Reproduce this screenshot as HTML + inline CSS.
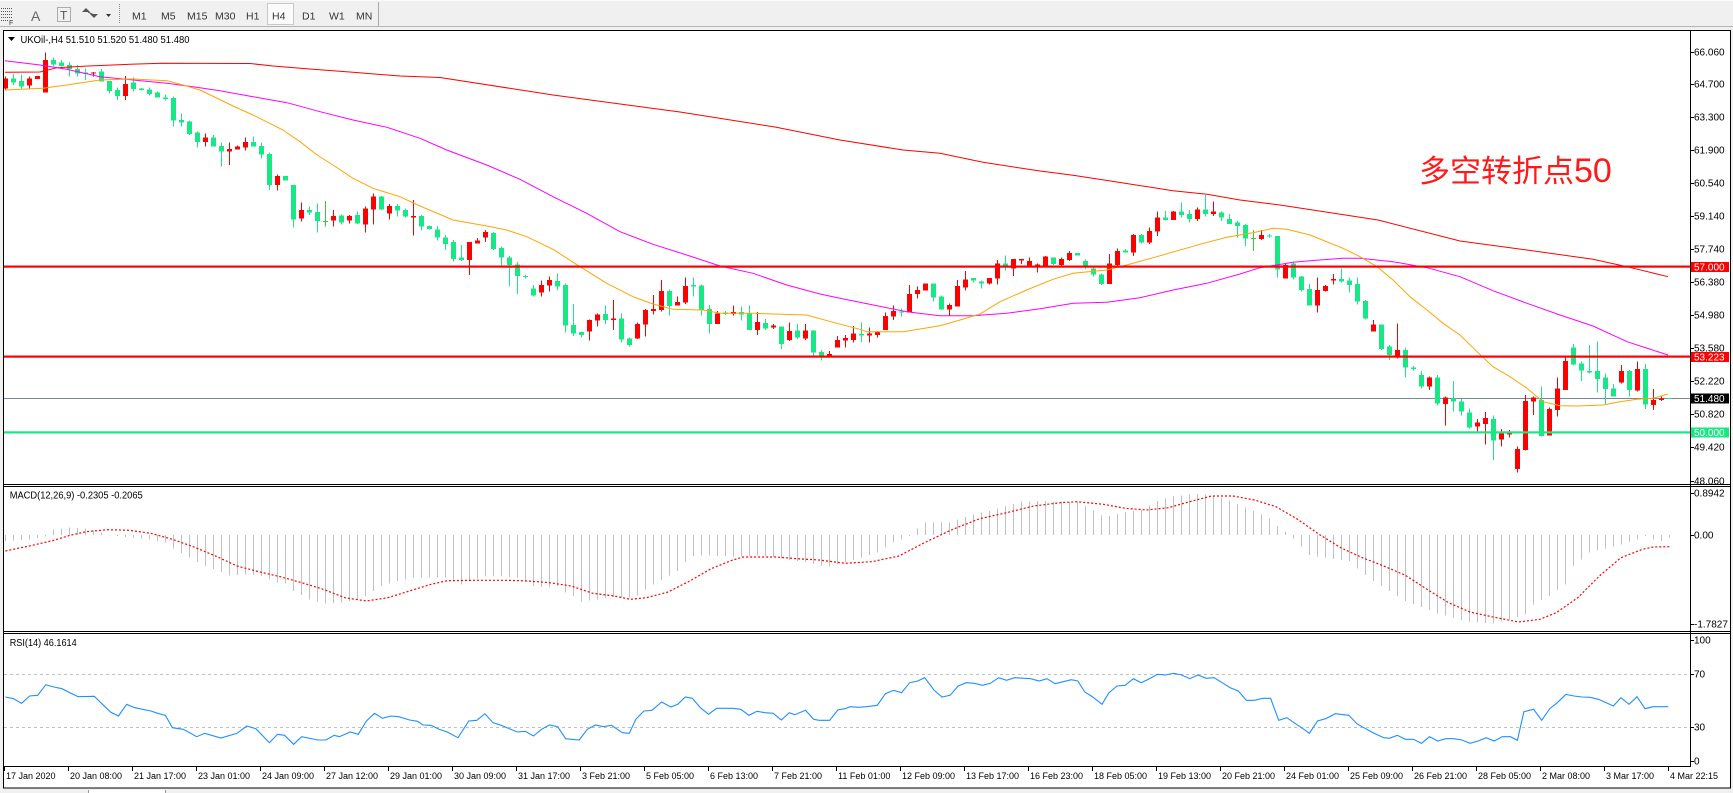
<!DOCTYPE html>
<html><head><meta charset="utf-8">
<style>
html,body{margin:0;padding:0;width:1733px;height:793px;overflow:hidden;background:#f0f0f0;}
svg{display:block;}
text{font-family:"Liberation Sans","Noto Sans CJK SC",sans-serif;}
</style></head><body>
<svg id="s" width="1733" height="793" viewBox="0 0 1733 793" xmlns="http://www.w3.org/2000/svg">
<defs>
<clipPath id="cm"><rect x="4" y="31" width="1686" height="453"/></clipPath>
<clipPath id="cd"><rect x="4" y="487" width="1686" height="144"/></clipPath>
<clipPath id="cr"><rect x="4" y="634" width="1686" height="132"/></clipPath>
</defs>
<rect x="0" y="0" width="1733" height="793" fill="#f0f0f0"/>
<!-- toolbar -->
<line x1="0" y1="0.5" x2="1733" y2="0.5" stroke="#fafafa"/>
<line x1="0" y1="26.5" x2="1733" y2="26.5" stroke="#b4b4b4"/>
<g stroke="#555" stroke-dasharray="1,1">
<line x1="1" y1="8.5" x2="13" y2="8.5"/><line x1="1" y1="11.5" x2="13" y2="11.5"/>
<line x1="1" y1="14.5" x2="13" y2="14.5"/><line x1="1" y1="17.5" x2="13" y2="17.5"/>
<line x1="1" y1="20.5" x2="9" y2="20.5"/>
</g>
<text x="9" y="25" font-size="7" fill="#333">F</text>
<text x="31" y="21" font-size="14" fill="#666">A</text>
<rect x="57.5" y="7.5" width="13" height="14" fill="none" stroke="#666" stroke-dasharray="1,1"/>
<text x="60" y="19.5" font-size="12" fill="#555">T</text>
<path d="M86 8 L90 12 L82 12 Z M90 14 L94 18 L98 14 Z" fill="#555"/>
<line x1="88" y1="12" x2="94" y2="15" stroke="#555"/>
<path d="M106 14 L111 14 L108.5 17 Z" fill="#333"/>
<line x1="119.5" y1="4" x2="119.5" y2="24" stroke="#888" stroke-dasharray="1,1"/>
<rect x="267.5" y="3.5" width="26" height="21" fill="#fafafa" stroke="#c8c8c8"/>
<g font-size="10.5" fill="#333">
<text x="132" y="19.5">M1</text><text x="161" y="19.5">M5</text><text x="187" y="19.5">M15</text>
<text x="215" y="19.5">M30</text><text x="246" y="19.5">H1</text><text x="272" y="19.5">H4</text>
<text x="302" y="19.5">D1</text><text x="329" y="19.5">W1</text><text x="356" y="19.5">MN</text>
</g>
<line x1="378.5" y1="2" x2="378.5" y2="26" stroke="#a8a8a8"/>
<!-- chart window -->
<rect x="3.5" y="30.5" width="1727" height="757.5" fill="#fff" stroke="#000"/>
<rect x="89" y="790" width="76" height="3" fill="#fff"/>
<line x1="88.5" y1="790" x2="88.5" y2="793" stroke="#999"/>
<line x1="165.5" y1="790" x2="165.5" y2="793" stroke="#999"/>

<!-- main panel -->
<g clip-path="url(#cm)">
<line x1="4" y1="398.5" x2="1690" y2="398.5" stroke="#778899"/>
<g id="cand" shape-rendering="crispEdges"></g>
<polyline fill="none" stroke="#ff0000" stroke-width="1" points="5,72.3 40,72 57,67.7 88,66 130,64.3 162,63.3 250,63.5 273,66 313,69.3 353,72.3 400,76 440,77.5 553,95 680,112 775,127 840,140 903,150 940,153.3 983,162.3 1040,171 1073,175.3 1117,182 1173,190.7 1207,194.3 1240,200 1280,205 1378,220 1460,241 1527,250 1593,259.3 1627,266.7 1668,276.7"/>
<polyline fill="none" stroke="#ff00ff" stroke-width="1" points="5,60.7 40,65 66.7,69.3 100,76.7 133,80 167,83.3 193,86.7 220,90.7 253,96.7 287,102.7 320,111.7 353,120 387,127.3 420,138.3 446.7,150 486.7,165 520,179.3 553,196.7 586.7,213.3 620,231.7 653,244.3 686.7,255 720,266 753,273.3 786.7,285 820,294 840,298.3 873.3,305 906.7,311.7 940,315.7 973,315.7 1006.7,313.3 1040,308.7 1073.3,303.3 1106.7,302.3 1140,297.7 1173.3,290 1206.7,283.3 1240,274 1260,267.7 1293,262.3 1310,260.7 1343,258.3 1360,258.3 1393,261.7 1427,267.7 1460,276.7 1493,290.7 1527,303.3 1560,315 1593,326 1627,341.7 1668,355"/>
<polyline fill="none" stroke="#ffa500" stroke-width="1" points="5,90 43,88.3 66.7,85 100,80 133,79 167,80.7 183,85 200,90 233,106 253,115 283,130 300,141.7 317,155 333,165 353,178.3 373,188.3 400,196.7 420,206 453,220 486.7,226 506.7,230 526.7,236.7 553,249.3 580,266.7 606.7,283.3 633,296.7 653,304 673,309.3 703,310 720,313.3 753,313.3 773,314 806.7,315 836.7,323.3 860,329.3 866.7,331.7 903,331.7 940,325.7 960,320 980,314 1000,301.7 1026.7,290 1053,279.3 1073,273.3 1106.7,270 1126.7,265 1156.7,256.7 1200,244.3 1226.7,237.3 1253,232.7 1273,228.3 1287,229.3 1310,235 1343,248.3 1360,256.7 1377,266.7 1393,280 1410,296.7 1427,310 1443,323.3 1460,335 1477,351.7 1493,366.7 1510,376.7 1527,388.3 1543,401.7 1560,405.7 1577,406 1603,405 1620,401.7 1637,399.3 1653,398.3 1668,394"/>
<rect x="4" y="265.5" width="1686" height="2.2" fill="#ff0000"/>
<rect x="4" y="355.5" width="1686" height="2.2" fill="#ff0000"/>
<rect x="4" y="431.3" width="1686" height="2.2" fill="#18e884"/>
<text x="1419" y="182" font-size="31" fill="#ff1a1a">多空转折点<tspan font-size="34">50</tspan></text>
</g>
<path d="M8 37 L15 37 L11.5 41 Z" fill="#000"/>
<text x="20.5" y="43" font-size="10" fill="#000" textLength="169" lengthAdjust="spacingAndGlyphs">UKOil-,H4  51.510 51.520 51.480 51.480</text>

<!-- MACD panel -->
<g clip-path="url(#cd)">
<g id="hist" shape-rendering="crispEdges"></g>
<polyline fill="none" stroke="#ff0000" stroke-width="1.2" stroke-dasharray="2,2" points="5.4,551 32.3,545.3 53.9,540.3 70,535.3 86.2,531.7 107.8,529.7 129.3,530.3 150.9,533.3 172.4,539.3 194,547 215.5,556 237.1,566 258.6,571.7 280.2,576.7 301.7,582.7 323.3,589.3 344.8,597.7 366.4,601 387.9,597.7 409.5,591 431,584.3 447.2,580.7 474.1,580.3 506.5,580.3 528,581 549.6,582.7 571.1,586 592.7,593.3 614.2,596 630.4,599.3 646.6,597.7 668.1,592 689.7,581 711.2,568.7 732.8,560 743.5,557 775.9,557 797.4,558.7 819,560 845,563.3 871.9,561.7 898.9,556 925.8,542 952.8,529.3 979.7,518.7 1006.6,512.7 1033.6,506 1060.5,502.7 1076.7,501.7 1103.6,504.3 1125.2,508.3 1146.7,510 1168.3,507.7 1189.8,501.7 1211.4,496 1233,496 1254.5,500 1276,506.7 1297.6,519.3 1319.1,534.3 1340.7,547.7 1362.3,557.7 1383.8,566 1405.4,575.3 1427,589.3 1448.5,602.7 1470,612 1491.6,616.7 1518.5,622 1540,619.3 1556.3,612.7 1577.8,597.7 1599.4,576 1620.9,557.7 1642.5,549.3 1653.2,547 1669.4,546.7"/>
</g>
<text x="9.7" y="498.5" font-size="10" fill="#000" textLength="133" lengthAdjust="spacingAndGlyphs">MACD(12,26,9) -0.2305 -0.2065</text>

<!-- RSI panel -->
<g clip-path="url(#cr)">
<line x1="4" y1="674.5" x2="1690" y2="674.5" stroke="#c0c0c0" stroke-dasharray="3,3"/>
<line x1="4" y1="727.5" x2="1690" y2="727.5" stroke="#c0c0c0" stroke-dasharray="3,3"/>
<polyline fill="none" stroke="#1e90ff" stroke-width="1.1" points="5.4,697 13.5,698.7 21.6,703.3 29.6,696 37.7,695.3 45.8,684.7 53.9,687 62,688.7 70,692.7 78.1,696.7 94.3,696.3 110.5,712 118.5,716 126.6,704.3 134.7,707.7 150.9,711 158.9,713.7 165.4,715.3 172.4,727.7 183.2,729.3 196.7,736.7 204.7,733.3 220.9,738 237.1,733.3 246.8,726 255.9,728.7 269.4,742.7 277.5,734.3 284.5,735.3 293.6,744.3 301.7,736.7 317.9,740 326,740 334.1,735.3 339.4,736.7 350.2,732 358.3,734.3 366.4,721 374.5,713.3 382.5,718.3 390.6,716 398.7,716.7 409.5,720 417.6,721.3 423,725 431,725.3 439.1,729.3 447.2,732 458,737.7 468.8,721 476.8,720.3 484.9,713.7 493,722.7 501.1,725.3 517.2,732 525.3,731.3 533.4,736 541.5,729.3 549.6,725 557.7,726.7 565.7,738.7 579.2,740 587.3,729.3 595.4,725 603.4,726.7 611.5,725.3 622.3,732.7 629.3,733.3 635.8,719.3 643.9,711 651.9,710.3 661.6,702 670.8,707 677.8,704.3 685.3,697 692.3,698.3 700.4,707.7 708.5,714.3 716.6,708.3 732.8,708.3 740.8,709.3 748.9,715.3 757,711.3 765.1,712.7 773.2,713.3 781.3,720 789.3,712.7 794.7,714.7 805.5,710.3 813.6,719.3 819,720.3 829.7,720.3 837.8,710 845,708.7 850.4,706.7 858.5,707.3 866.6,706.7 877.3,705.3 885.4,693.7 893.5,690.3 901.6,692.7 909.7,682.7 917.7,681 924.7,677.7 933.9,690 942,697 950.1,695.3 958.1,686 966.2,682.7 974.3,683.3 982.4,685.3 990.5,683.3 998.6,677.7 1006.6,680.3 1014.7,677.7 1030.9,678.7 1039,681 1047,678.7 1055.1,683.7 1063.2,681.7 1071.3,679.7 1077.8,681 1084.8,692 1092.8,697 1102,704.3 1109,692.7 1117.1,686 1125.2,685.3 1133.3,678.7 1141.3,682.7 1149.4,678.7 1157.5,674.3 1165.6,675 1173.7,673.3 1181.7,675 1189.8,678.7 1197.9,675 1206,678.3 1214.1,677.7 1222.2,682.7 1230.2,687.7 1238.3,691 1246.4,700.3 1254.5,700.3 1262.6,698.3 1270.6,698.3 1278.7,720.3 1286.8,717.7 1294.9,723.3 1303,728.7 1309.4,733.3 1317.5,721 1325.6,718.7 1335.3,713.7 1348.8,715.3 1356.9,723.7 1365,728.3 1373,732.7 1383.8,737.7 1389.2,738.3 1397.3,735.3 1405.3,739.3 1413.4,739.3 1421.5,743.3 1429.6,736.7 1437.7,741 1445.8,738.7 1453.8,738.7 1461.9,740 1470,743.3 1478.1,741 1486.2,737.7 1494.2,741 1502.3,736.7 1510.4,736.7 1517.4,740.3 1523.9,711.7 1533.6,709.3 1541.7,720.3 1549.7,708.7 1557.3,702.7 1565.9,694.3 1574,696 1582.1,697 1590.2,697.3 1598.3,699.3 1606.3,702.7 1613.3,706 1620.9,697.7 1629,704.3 1637,696.7 1645.1,708.7 1653.2,706.7 1668.3,706.7"/>
</g>
<text x="9.7" y="646" font-size="10" fill="#000" textLength="67" lengthAdjust="spacingAndGlyphs">RSI(14) 46.1614</text>

<!-- frame lines -->
<g stroke="#000" stroke-width="1" shape-rendering="crispEdges">
<line x1="4" y1="484.5" x2="1731" y2="484.5"/>
<line x1="4" y1="486.5" x2="1731" y2="486.5"/>
<line x1="4" y1="631.5" x2="1731" y2="631.5"/>
<line x1="4" y1="633.5" x2="1731" y2="633.5"/>
<line x1="4" y1="766.5" x2="1691" y2="766.5"/>
<line x1="1690.5" y1="31" x2="1690.5" y2="767"/>
</g>

<!-- price axis -->
<g id="pax" font-size="10" fill="#000"></g>
<rect x="1691" y="262" width="38" height="10" fill="#ff0000"/>
<text x="1694" y="270.5" font-size="10" fill="#fff">57.000</text>
<rect x="1691" y="352" width="38" height="10" fill="#ff0000"/>
<text x="1694" y="360.5" font-size="10" fill="#fff">53.223</text>
<rect x="1691" y="393.5" width="38" height="10" fill="#000"/>
<text x="1694" y="402" font-size="10" fill="#fff">51.480</text>
<rect x="1691" y="427.5" width="38" height="10" fill="#18e884"/>
<text x="1694" y="436" font-size="10" fill="#fff">50.000</text>

<!-- time axis -->
<g id="tax" font-size="9" fill="#000"></g>
</svg>
<script>
(function(){
var C=[[76.7,78.3,88.3,90,1],[74,78.3,82.3,85,0],[74.3,81,86.7,89,0],[76.7,78.3,85.7,89,1],[76,76,79,79,1],[52.7,60,92.7,92.7,1],[57.3,60,64.7,66.7,0],[60,62.7,66,66.7,0],[62,65,69,76.7,0],[65,69,73.3,76.7,0],
[68.3,72.7,74,80,0],[72,72.7,73.3,76.7,1],[69,71.3,81.7,81.7,0],[81,81,91,93.3,0],[87.3,90,96,100,0],[76,84,96,100,1],[77.7,82.7,89,91.7,0],[88,88.3,90,90.5,0],[87.3,89.3,94,95.7,0],[91.7,92.7,97.7,97.7,0],
[94.3,97.3,99,100.7,0],[96.7,98,120.7,126.7,0],[113.3,120,122.7,126.7,0],[120.7,121.7,134,135,0],[131.7,132.7,142,147.7,0],[133.3,137.7,142,146.7,1],[135,137.7,146.7,146.7,0],[142.7,146,151.7,166.7,0],[142.3,149,151.7,165,1],[145.3,146.7,149.3,149.3,1],
[137.7,142,147.7,150.7,1],[136.7,142,146.7,146.7,0],[142.7,146,154.3,158.3,0],[152.7,154,185,190,0],[174.3,176,185,190.7,1],[176,176,180.7,180.7,0],[185,185,219.3,227.7,0],[202.7,210,218.3,221.7,1],[206.7,210,212.7,215,0],[203.3,212,221,232.7,0],
[201,221,221.7,226.7,2],[210,216,220.7,226.7,1],[214.3,215.3,222.7,224.3,0],[215,216,220.7,223.3,1],[211.7,215,223.3,224,0],[206.7,208.3,224.3,232.7,1],[193.3,196.7,209.3,224.3,1],[196,196.7,209.3,210,0],[204,206,213.3,219.3,1],[204,206,210.7,216.7,0],
[208.3,210,216.7,217.7,0],[200,216,217.7,235.7,1],[215,216,226.7,230.7,0],[225.3,226,229,229.3,0],[226,229.3,237.3,240.7,0],[235,237.3,244,250,0],[240,242,259,261.7,0],[245,257.7,260,261,0],[242,242,260,275,1],[238,240.7,243.7,243.7,1],
[230,232,237.7,242,1],[232,233,249,250,0],[246.7,248,257.7,266,0],[256,257.7,265,286,0],[262,264.3,276,294,0],[274.7,276,276.7,278.3,0],[285,288.7,295.3,296.7,0],[280.7,285,292.7,296.7,1],[276.7,280,285.7,291.7,1],[273.3,281,286.7,290,0],
[283.3,285,325.7,332.7,0],[304,325,333.3,336,0],[332,332,335,337.3,0],[319.3,320,331.7,340.7,1],[313.3,314.3,320.7,326.7,1],[305.3,314,320,324,0],[300,318.3,320,330,1],[313.3,318.3,339.3,342.7,0],[337.7,338.3,345,346.7,0],[322.3,324,338.3,339,1],
[309,310,324.7,336.7,1],[295,309,311,314.3,1],[280,291,310,311.7,1],[289.3,291,306,315.7,0],[296.7,302,305.7,305.7,1],[277.7,286,302.3,304,1],[277.7,285,286.7,296.7,0],[284.7,285.7,310,315.7,0],[305,309,324,333.3,0],[311,313.3,324,324,1],
[311,312.3,314,315,0],[305.7,312,314,315.7,1],[306.7,312,314.3,320.7,0],[305.7,313.3,330,330,0],[312,322,330,335,1],[319,323,328.3,330,0],[324,325.7,327.7,329,1],[326.7,326.7,344,349,0],[322.7,331,340,341,1],[324,330.3,337.7,339,0],
[324,330.3,338.3,340,1],[330,330.7,352.7,356,0],[350,352,356,360.7,0],[351,354,356.7,356.7,1],[336,340,347.7,347.7,1],[335,338,340.7,347.3,1],[326,333.7,340,342.7,1],[322.7,334,335.3,342,0],[327.7,333.7,335.7,342.7,1],[331,332,335,337.7,1],
[312.7,316,330,330,1],[305.7,311,316.7,320,1],[308.3,311.7,312.3,316.7,0],[285,294,312.3,312.3,1],[286.7,290,294,298.7,1],[283.3,283.3,290.7,290.7,1],[283.3,283.3,297.7,301.7,0],[295.7,296.7,309.3,310,0],[303.3,305,309.3,316,1],[280,286,306.7,306.7,1],
[271,279.3,287.7,290.7,1],[278,278,280.7,282.3,0],[280.7,281.3,283.7,288.3,0],[278,278,283.7,284.7,1],[260,263.3,278.7,284.7,1],[255.3,263.3,266.7,270.7,0],[259,259,268.3,276,1],[259,259,260.7,264,1],[257.3,261,266.7,267.3,1],[263.3,264.3,267.3,272.7,1],
[256,256.7,266.7,266.7,1],[257.3,257.3,264,265,0],[257.3,259,265,266,1],[251,253,260,261,1],[253,253,255.7,255.7,0],[259.3,261,266.3,269,0],[266.7,268.3,274.3,276.7,0],[273.3,274.3,284,285,0],[254,263.3,284,284,1],[248.3,251,265,266.7,1],
[249,250.7,252.3,252.7,0],[234,235,252.7,256,1],[234,235,242.7,243.3,0],[227.3,231,242.7,244,1],[211.7,217.3,231.7,236,1],[211,217.3,220,220.7,0],[211,211.7,220,220,1],[202.7,211.7,215,217.7,0],[210,214,219,222.7,0],[207.7,209.3,219,221,1],
[195,209.3,214,216.7,0],[201.7,211.7,214,216,1],[211.7,212.7,217.7,221,0],[214,219,224,224,0],[221,222.7,226,237.3,0],[224,225,238.7,246,0],[230,238,238.7,251,2],[230,235,239,240,1],[234,235.3,236,237.3,0],[236,236,269.3,277.3,0],
[263.3,265,278.3,278.3,1],[261.7,263.3,277.7,279.3,0],[276,276.7,290,291.7,0],[284,289,305.7,305.7,0],[277.3,290,305.7,312.7,1],[285,286,291,291.7,1],[274,279,280.7,284.3,1],[268.3,279,281.7,282.3,0],[277.3,280.7,285,292.7,0],[277.3,284,301.7,304.3,0],
[300,301,318.3,319.3,0],[320,324.3,331.7,331.7,1],[324.3,324.3,349,350,0],[345,346.7,355,360,0],[323.3,350,357.3,358.3,1],[347.7,350,367.7,377.3,0],[366,367.7,369,370.7,0],[371,375,386.7,388.3,0],[376.7,377.7,386.7,390,1],[375,377.7,403.3,405.7,0],
[396.7,397.7,404,425.7,1],[381,398.3,401.7,411.7,0],[399,401.7,411.7,415.7,0],[408.3,412.7,427.3,428.3,0],[419,422.7,426.7,431.7,1],[412,418,424,444.3,1],[415.7,419,440.7,460,0],[429,433.3,439.3,446.7,1],[430,433.3,434,437.3,1],[446.7,449,469,472.3,1],
[395,401,450,450.7,1],[396.7,397.7,401.7,415,1],[386.7,400,436,436.7,0],[407.7,409,435.7,435.7,1],[377.7,388.3,410,416.7,1],[357.7,361,390,390,1],[344,347.7,364.3,365.3,0],[361.7,363.3,370.7,381,0],[345,371,372.3,373.3,0],[341.7,371,379,392.7,0],
[373.3,377.3,389,405,0],[384,388.3,396.7,396.7,0],[365,371,382.7,383.3,1],[370,371,390,396.7,0],[361.7,369,390.7,391.7,1],[364,369,404.3,409,0],[389,400,405,410,1],[396.7,398.3,400,401,1],[398,398,399,399,0]];
var g='';
for(var i=0;i<C.length;i++){var c=C[i];var x=5+8*i;var col=c[4]==1?'#ff0000':(c[4]==2?'#32cd32':'#18e884');
g+='<line x1="'+(x+0.5)+'" x2="'+(x+0.5)+'" y1="'+c[0]+'" y2="'+c[3]+'" stroke="'+col+'"/>';
var h=Math.max(1,c[2]-c[1]);
g+='<rect x="'+(x-2)+'" y="'+c[1]+'" width="5" height="'+h+'" fill="'+col+'"/>';}
document.getElementById('cand').innerHTML=g;

var H=[[0,541],[3,539.3],[5,536.7],[6,529.3],[8,527.7],[10,528.7],[12,532.7],[13,535.3],[16,537.7],[18,539.3],[20,542.7],[21,548.3],[23,557.7],[25,566],[27,572],[28,575.3],[30,574.3],[32,576],[34,582.7],[35,583.3],[36,591],[38,599.3],[40,603.3],[42,602.7],[44,599.3],[45,596],[47,586],[49,581],[51,577.7],[55,577.7],[56,579.3],[57,584.3],[58,580],[60,576.7],[62,576.7],[64,577.7],[65,580.3],[66,586],[68,587.7],[69,586],[70,592.7],[71,596],[72,601.7],[74,599.3],[76,597],[78,597.7],[79,595.3],[80,589.3],[81,584.3],[82,580],[84,571],[85,562],[86,556],[87,555.3],[92,556.7],[94,555.3],[96,557],[98,560],[100,562],[102,566],[103,566.7],[104,564.3],[105,562],[107,557.7],[109,552.7],[111,542.7],[113,536],[114,528.7],[115,522.7],[117,522],[118,522.7],[119,519.3],[121,514.3],[123,511],[125,506],[127,501.7],[130,501],[134,502],[135,506],[137,515.3],[138,516],[140,512],[142,510],[144,501],[146,496],[149,494],[151,495.3],[153,500.3],[155,507.7],[157,514.3],[158,518.3],[159,526],[161,538.3],[163,555],[167,560],[168,561],[169,568.7],[171,581],[173,591],[175,601],[177,607],[179,613.3],[181,617.7],[183,622],[186,623.3],[188,619.3],[190,614.3],[191,604.3],[193,596],[195,584.3],[196,566],[198,552.7],[200,548.7],[202,544.3],[204,539.3],[205,536],[206,539.3],[207,541],[208,537.7]];
var hg='';var k=0;
for(var i=0;i<=208;i++){while(k<H.length-2&&H[k+1][0]<i)k++;var a=H[k],b=H[k+1];var t=(b[0]==a[0])?0:(i-a[0])/(b[0]-a[0]);if(t<0)t=0;if(t>1)t=1;var y=a[1]+(b[1]-a[1])*t;
var x=5.5+8*i;hg+='<line x1="'+x+'" x2="'+x+'" y1="535" y2="'+y.toFixed(1)+'" stroke="#c0c0c0"/>';}
document.getElementById('hist').innerHTML=hg;

var P=[['66.060',52],['64.700',84],['63.300',117],['61.900',150],['60.540',183],['59.140',216],['57.740',249],['56.380',282],['54.980',315],['53.580',348],['52.220',381],['50.820',414],['49.420',447],['48.060',481],
['0.8942',493],['0.00',535],['-1.7827',624],['100',640],['70',674],['30',727],['0',761]];
var pg='';
for(var i=0;i<P.length;i++){var y=P[i][1];pg+='<line x1="1690" x2="1694" y1="'+(y+0.5)+'" y2="'+(y+0.5)+'" stroke="#000"/>';
pg+='<text x="1694" y="'+(y+3.5)+'">'+P[i][0]+'</text>';}
document.getElementById('pax').innerHTML=pg;

var T=['17 Jan 2020','20 Jan 08:00','21 Jan 17:00','23 Jan 01:00','24 Jan 09:00','27 Jan 12:00','29 Jan 01:00','30 Jan 09:00','31 Jan 17:00','3 Feb 21:00','5 Feb 05:00','6 Feb 13:00','7 Feb 21:00','11 Feb 01:00','12 Feb 09:00','13 Feb 17:00','16 Feb 23:00','18 Feb 05:00','19 Feb 13:00','20 Feb 21:00','24 Feb 01:00','25 Feb 09:00','26 Feb 21:00','28 Feb 05:00','2 Mar 08:00','3 Mar 17:00','4 Mar 22:15'];
var tg='';
for(var i=0;i<T.length;i++){var x=4.5+64*i;tg+='<line x1="'+x+'" x2="'+x+'" y1="767" y2="771" stroke="#000"/>';
tg+='<text x="'+(x+1.5)+'" y="779">'+T[i]+'</text>';}
document.getElementById('tax').innerHTML=tg;
})();
</script>
</body></html>
